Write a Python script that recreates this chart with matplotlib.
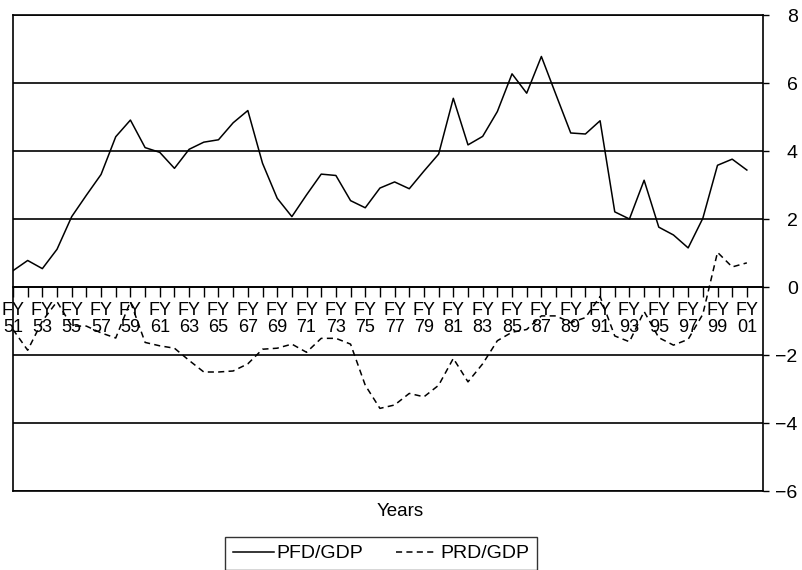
import matplotlib.pyplot as plt

plt.rcParams['font.family'] = ['Liberation Sans', 'DejaVu Sans']

# Dados (anos fiscais 1951-2001)
anos = list(range(1951, 2002))
pfd_gdp = [0.48, 0.78, 0.54, 1.11, 2.07, 2.70, 3.31, 4.42, 4.91, 4.10,
           3.96, 3.49, 4.05, 4.26, 4.33, 4.83, 5.19, 3.64, 2.61, 2.07,
           2.71, 3.32, 3.28, 2.54, 2.33, 2.91, 3.09, 2.89, 3.41, 3.91,
           5.55, 4.18, 4.43, 5.16, 6.27, 5.70, 6.78, 5.65, 4.53, 4.50,
           4.89, 2.21, 2.00, 3.14, 1.76, 1.53, 1.15, 2.02, 3.58, 3.76,
           3.44]
prd_gdp = [-1.25, -1.86, -1.00, -0.43, -1.15, -1.15, -1.35, -1.50, -0.43, -1.63,
           -1.73, -1.80, -2.16, -2.50, -2.50, -2.47, -2.26, -1.83, -1.80, -1.68,
           -1.92, -1.51, -1.51, -1.68, -2.89, -3.57, -3.47, -3.13, -3.23, -2.89,
           -2.10, -2.79, -2.26, -1.58, -1.33, -1.25, -0.85, -0.85, -1.05, -0.90,
           -0.28, -1.44, -1.61, -0.72, -1.49, -1.71, -1.54, -0.80, 1.02, 0.59,
           0.71]
rotulos = ['FY\n%02d' % (a % 100) if (a - 1951) % 2 == 0 else '' for a in anos]

fig = plt.figure(figsize=(8.03, 5.7), dpi=100)
ax = fig.add_axes([13 / 803, 1 - 491 / 570, 750 / 803, 476 / 570])

ax.plot(anos, pfd_gdp, color='black', lw=1.1, label='PFD/GDP')
ax.plot(anos, prd_gdp, color='black', lw=1.1, dashes=(4, 2.8), label='PRD/GDP')

ax.set_xlim(1951, 2002.1)
ax.set_ylim(-6, 8)

# eixo x na linha do zero
ax.spines['bottom'].set_position(('data', 0))
ax.axhline(-6, color='black', lw=1.2, clip_on=False)
for s in ax.spines.values():
    s.set_linewidth(1.2)
ax.set_xticks(anos)
ax.set_xticklabels(rotulos, fontsize=13)
for t in ax.get_xticklabels():
    t.set_linespacing(1.0)
ax.tick_params(axis='x', direction='out', length=7, width=1, pad=4)

# eixo y à direita
ax.yaxis.tick_right()
ax.set_yticks(range(-6, 9, 2))
ax.tick_params(axis='y', direction='out', length=4, width=1, pad=21, labelsize=14)
for t in ax.get_yticklabels():
    t.set_horizontalalignment('right')
ax.yaxis.grid(True, color='black', lw=1.2)

fig.text(400 / 803, 1 - 511 / 570, 'Years', ha='center', va='center', fontsize=13.5)

leg = fig.legend(loc='upper center', bbox_to_anchor=(381 / 803, 1 - 537 / 570), ncol=2,
                 fontsize=14, frameon=True, fancybox=False, edgecolor='black',
                 handlelength=2.1, handletextpad=0.15, columnspacing=1.7,
                 borderpad=0.4, borderaxespad=0)
leg.get_frame().set_linewidth(1.0)

fig.savefig('out.png', dpi=100)
